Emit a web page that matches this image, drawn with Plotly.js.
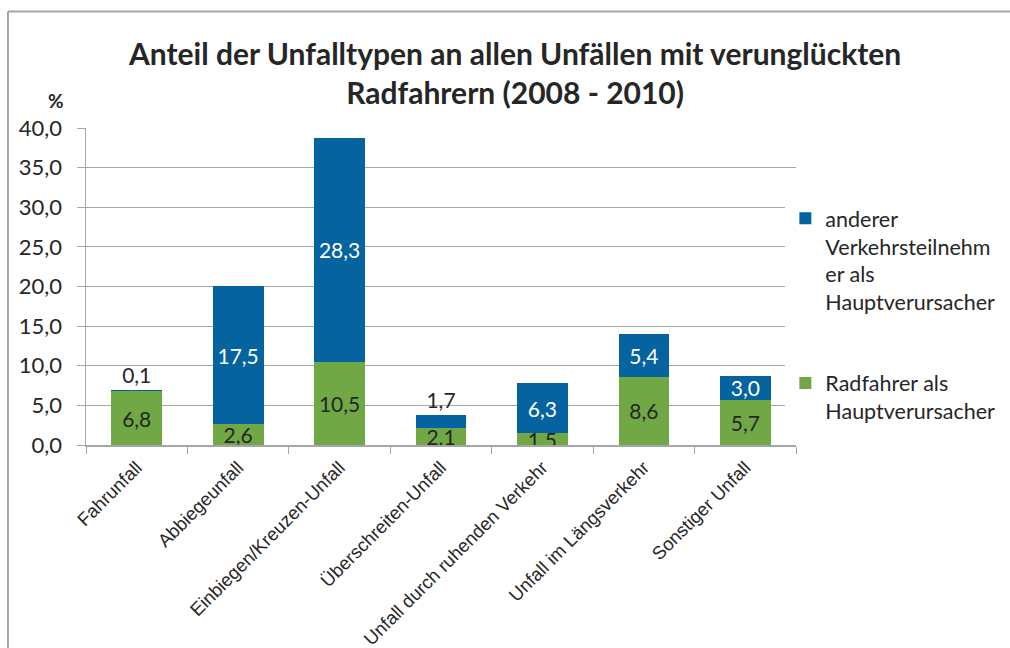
<!DOCTYPE html>
<html>
<head>
<meta charset="utf-8">
<script src="https://cdn.plot.ly/plotly-3.0.1.min.js"></script>
<style>
  html, body { margin: 0; padding: 0; background: #fff; }
  #chart { width: 1010px; height: 648px; }
</style>
</head>
<body>
<div id="chart"></div>
<script>
// Unfalltypen (x-Achse)
var categories = ['Fahrunfall', 'Abbiegeunfall', 'Einbiegen/Kreuzen-Unfall', 'Überschreiten-Unfall',
                  'Unfall durch ruhenden Verkehr', 'Unfall im Längsverkehr', 'Sonstiger Unfall'];

// Radfahrer als Hauptverursacher
var radfahrer = [6.8, 2.6, 10.5, 2.1, 1.5, 8.6, 5.7];
// anderer Verkehrsteilnehmer als Hauptverursacher
var andere = [0.1, 17.5, 28.3, 1.7, 6.3, 5.4, 3.0];

var yTicks = [0, 5, 10, 15, 20, 25, 30, 35, 40];

function fmt(v) { return v.toFixed(1).replace('.', ','); }

var green = '#70a845';
var blue = '#05649f';
var dark = '#262626';

var traces = [{
    x: categories,
    y: radfahrer,
    name: 'Radfahrer als<br>Hauptverursacher',
    legendgroup: 'rad',
    legendrank: 2,
    type: 'bar',
    marker: { color: green },
    text: radfahrer.map(fmt),
    textposition: 'inside',
    insidetextanchor: 'middle',
    constraintext: 'none',
    textfont: { family: 'Lato, sans-serif', size: 21, color: dark },
    hoverinfo: 'y'
}, {
    x: categories,
    y: andere,
    name: 'anderer<br>Verkehrsteilnehm<br>er als<br>Hauptverursacher',
    legendgroup: 'andere',
    legendrank: 1,
    type: 'bar',
    marker: { color: blue },
    text: andere.map(fmt),
    // kleine Segmente bekommen die Beschriftung oberhalb
    textposition: andere.map(function (v) { return v < 2 ? 'outside' : 'inside'; }),
    insidetextanchor: 'middle',
    constraintext: 'none',
    cliponaxis: false,
    insidetextfont: { family: 'Lato, sans-serif', size: 21, color: '#ffffff' },
    outsidetextfont: { family: 'Lato, sans-serif', size: 21, color: dark },
    hoverinfo: 'y'
}];

var layout = {
    width: 1010,
    height: 648,
    margin: { l: 86, r: 214, t: 128, b: 203, autoexpand: false },
    paper_bgcolor: '#ffffff',
    plot_bgcolor: '#ffffff',
    barmode: 'stack',
    bargap: 0.5,
    font: { family: 'Lato, sans-serif', color: dark },
    title: {
        text: '<b>Anteil der Unfalltypen an allen Unfällen mit verunglückten<br>Radfahrern (2008 - 2010)</b>',
        font: { family: 'Lato, sans-serif', size: 30, color: dark },
        x: 0.51, xanchor: 'center',
        y: 0.899, yanchor: 'middle'
    },
    xaxis: {
        tickangle: -45,
        tickfont: { family: 'Liberation Sans, Arial, sans-serif', size: 18.5, color: dark },
        showline: true, linecolor: '#a6a6a6', linewidth: 1.5,
        ticks: 'outside', tickson: 'boundaries', ticklen: 7, tickcolor: '#a6a6a6',
        ticklabelstandoff: 3,
        showgrid: false
    },
    yaxis: {
        range: [0, 40],
        tickvals: yTicks,
        ticktext: yTicks.map(fmt),
        tickfont: { family: 'Lato, sans-serif', size: 22, color: dark },
        showline: true, linecolor: '#a6a6a6', linewidth: 1.5,
        ticks: 'outside', ticklen: 8, tickcolor: '#a6a6a6',
        ticklabelstandoff: 10,
        showgrid: true, gridcolor: '#a6a6a6', gridwidth: 1.2,
        zeroline: false
    },
    legend: {
        x: 0.985, y: 0.78, xanchor: 'left', yanchor: 'top',
        font: { family: 'Lato, sans-serif', size: 21.5, color: dark },
        traceorder: 'grouped',
        tracegroupgap: 50,
        valign: 'top',
        itemwidth: 30
    },
    annotations: [{
        text: '<b>%</b>', xref: 'paper', yref: 'paper',
        x: -0.028, y: 1.045, xanchor: 'right', yanchor: 'bottom',
        showarrow: false, font: { family: 'Lato, sans-serif', size: 19, color: dark }
    }],
    shapes: [{
        type: 'line', xref: 'paper', yref: 'paper',
        x0: -0.1099, x1: -0.1099, y0: -0.7, y1: 1.3675,
        line: { color: '#a6a6a6', width: 2 }
    }, {
        type: 'line', xref: 'paper', yref: 'paper',
        x0: -0.1099, x1: 1.32, y0: 1.3675, y1: 1.3675,
        line: { color: '#a6a6a6', width: 2 }
    }],
    showlegend: true
};

Plotly.newPlot('chart', traces, layout, { displayModeBar: false, staticPlot: true });
</script>
</body>
</html>
